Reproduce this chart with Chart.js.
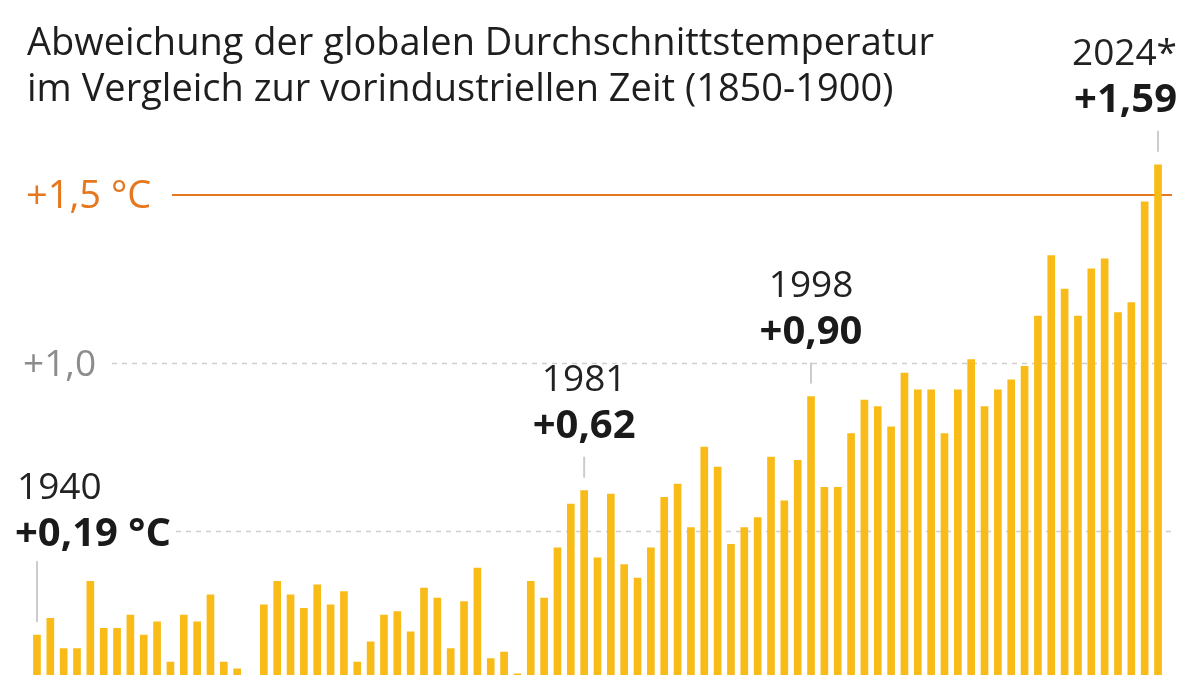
<!DOCTYPE html>
<html lang="de">
<head>
<meta charset="utf-8">
<title>Abweichung der globalen Durchschnittstemperatur</title>
<script src="https://cdn.jsdelivr.net/npm/chart.js@4.4.1/dist/chart.umd.min.js"></script>
<style>
  html, body { margin: 0; padding: 0; background: #fff; width: 1200px; height: 675px; overflow: hidden; }
  #wrap { position: relative; width: 1200px; height: 720px; }
</style>
</head>
<body>
<div id="wrap"><canvas id="tempChart" width="1200" height="720"></canvas></div>
<script>
// Jahre 1940 bis 2024
const years = [];
for (let y = 1940; y <= 2024; y++) years.push(String(y));

// Abweichung in °C gegenüber 1850-1900
const anomalies = [
  0.19, 0.24, 0.15, 0.15, 0.35, 0.21, 0.21, 0.25, 0.19, 0.23, // 1940-1949
  0.11, 0.25, 0.23, 0.31, 0.11, 0.09, 0.03, 0.28, 0.35, 0.31, // 1950-1959
  0.27, 0.34, 0.28, 0.32, 0.11, 0.17, 0.25, 0.26, 0.20, 0.33, // 1960-1969
  0.30, 0.15, 0.29, 0.39, 0.12, 0.14, 0.075, 0.35, 0.30, 0.45, // 1970-1979
  0.58, 0.62, 0.42, 0.61, 0.40, 0.36, 0.45, 0.60, 0.64, 0.51, // 1980-1989
  0.75, 0.69, 0.46, 0.51, 0.54, 0.72, 0.59, 0.71, 0.90, 0.63, // 1990-1999
  0.63, 0.79, 0.89, 0.87, 0.81, 0.97, 0.92, 0.92, 0.79, 0.92, // 2000-2009
  1.01, 0.87, 0.92, 0.95, 0.99, 1.14, 1.32, 1.22, 1.14, 1.28, // 2010-2019
  1.31, 1.15, 1.18, 1.48, 1.59                                 // 2020-2024
];

const titleLines = [
  'Abweichung der globalen Durchschnittstemperatur',
  'im Vergleich zur vorindustriellen Zeit (1850-1900)'
];

// Hervorgehobene Jahre mit Beschriftung
const highlightYears = ['1940', '1981', '1998', '2024'];
const highlightYearLabels = ['1940', '1981', '1998', '2024*'];
const highlightValueLabels = ['+0,19 °C', '+0,62', '+0,90', '+1,59'];

// Hilfslinien
const gridValues = [0.5, 1.0];
const gridLabels = ['', '+1,0'];
const limitValue = 1.5;
const limitLabel = '+1,5 °C';

const BAR = '#f8bb17';
const ORANGE = '#e5771e';
const FONT = '"Open Sans", "Noto Sans", sans-serif';

const overlay = {
  id: 'overlay',
  beforeDatasetsDraw(chart) {
    const ctx = chart.ctx;
    const y = chart.scales.y;
    ctx.save();
    // gestrichelte Gitterlinien
    ctx.strokeStyle = '#cfcfcf';
    ctx.lineWidth = 1.5;
    ctx.setLineDash([5, 5]);
    gridValues.forEach((v, i) => {
      const py = Math.round(y.getPixelForValue(v)) + 0.5;
      const x0 = gridLabels[i] ? 112 : 176;
      ctx.beginPath();
      ctx.moveTo(x0, py);
      ctx.lineTo(1172, py);
      ctx.stroke();
    });
    ctx.setLineDash([]);
    // 1,5-Grad-Linie
    const ly = y.getPixelForValue(limitValue);
    ctx.strokeStyle = ORANGE;
    ctx.lineWidth = 2;
    ctx.beginPath();
    ctx.moveTo(172, ly);
    ctx.lineTo(1172, ly);
    ctx.stroke();
    ctx.restore();
  },
  afterDatasetsDraw(chart) {
    const ctx = chart.ctx;
    const y = chart.scales.y;
    const bars = chart.getDatasetMeta(0).data;
    ctx.save();

    // Titel
    ctx.fillStyle = '#1e1e1e';
    ctx.font = '38px ' + FONT;
    ctx.textAlign = 'left';
    ctx.textBaseline = 'alphabetic';
    ctx.fillText(titleLines[0], 27, 55);
    ctx.fillText(titleLines[1], 27, 101);

    // Achsenbeschriftungen
    ctx.font = '37px ' + FONT;
    ctx.fillStyle = '#8c8c8c';
    gridValues.forEach((v, i) => {
      if (!gridLabels[i]) return;
      ctx.fillText(gridLabels[i], 23, y.getPixelForValue(v) + 13);
    });
    ctx.font = '500 38px ' + FONT;
    ctx.fillStyle = ORANGE;
    ctx.fillText(limitLabel, 26, y.getPixelForValue(limitValue) + 13);

    // Jahresmarken
    highlightYears.forEach((yr, i) => {
      const idx = years.indexOf(yr);
      const bar = bars[idx];
      const bx = bar.x;
      const top = bar.y;
      let align = 'center', tx = bx;
      if (i === 0) { align = 'left'; tx = 15; }
      if (i === highlightYears.length - 1) { align = 'right'; tx = 1177; }
      const valueBase = top - (i === 0 ? 89 : 53);
      const yearBase = valueBase - 47;

      ctx.textAlign = align;
      ctx.fillStyle = '#222';
      ctx.font = '37px ' + FONT;
      ctx.fillText(highlightYearLabels[i], tx + (i === 0 ? 2 : 0), yearBase);
      ctx.font = 'bold 40px ' + FONT;
      ctx.fillStyle = '#1a1a1a';
      ctx.fillText(highlightValueLabels[i], tx, valueBase);

      // Verbindungsstrich
      ctx.strokeStyle = '#cccccc';
      ctx.lineWidth = 2;
      ctx.beginPath();
      ctx.moveTo(bx, valueBase + (i === 0 ? 15 : 19));
      ctx.lineTo(bx, top - 13);
      ctx.stroke();
    });
    ctx.restore();
  }
};

new Chart(document.getElementById('tempChart'), {
  type: 'bar',
  data: {
    labels: years,
    datasets: [{
      data: anomalies,
      backgroundColor: BAR,
      borderWidth: 0,
      barThickness: 7
    }]
  },
  options: {
    responsive: false,
    animation: false,
    layout: { padding: { left: 30.3, right: 35.3, top: 111, bottom: 21 } },
    scales: {
      x: { display: false },
      y: { display: false, min: 0, max: 1.75 }
    },
    plugins: {
      legend: { display: false },
      tooltip: { enabled: false }
    }
  },
  plugins: [overlay]
});
</script>
</body>
</html>
